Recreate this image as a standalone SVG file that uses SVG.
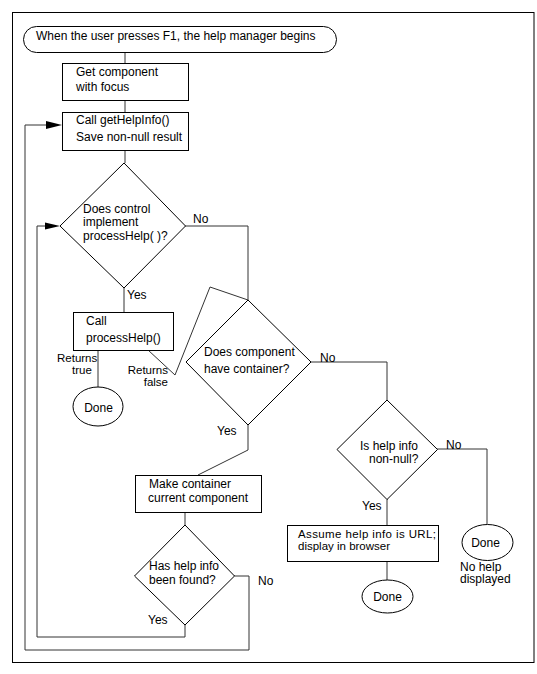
<svg xmlns="http://www.w3.org/2000/svg" width="537" height="674" viewBox="0 0 537 674">
<style>
text{font-family:"Liberation Sans",Arial,sans-serif;font-size:12px;fill:#000}
.s{fill:#fff;stroke:#000;stroke-width:1}
.c{fill:none;stroke:#333;stroke-width:1}
.m{text-anchor:middle}
.e{text-anchor:end}
.t{font-size:11.5px}
</style>
<rect width="537" height="674" fill="#fff"/>
<rect x="12.5" y="12.5" width="521.5" height="650" fill="none" stroke="#000" stroke-width="1"/>
<g id="connectors">
<line class="c" x1="125" y1="52" x2="125" y2="63"/>
<line class="c" x1="125" y1="100" x2="125" y2="112"/>
<line class="c" x1="125" y1="150" x2="125" y2="163"/>
<line class="c" x1="124" y1="288" x2="124" y2="312"/>
<polyline class="c" points="185,226 248,226 248,300"/>
<line class="c" x1="98" y1="351" x2="98" y2="387"/>
<polyline class="c" points="148,350 175,375 210,287 248,300"/>
<polyline class="c" points="311,362 387,362 387,400"/>
<polyline class="c" points="248,425 248,450 198,475"/>
<line class="c" x1="185" y1="513" x2="185" y2="525"/>
<polyline class="c" points="234,576 249,576 249,650 25,650 25,125 48,125"/>
<polyline class="c" points="185,625 185,637 37,637 37,226 46,226"/>
<polyline class="c" points="437,449 487,449 487,524"/>
<line class="c" x1="387" y1="499" x2="387" y2="525"/>
<line class="c" x1="387" y1="562" x2="387" y2="580"/>
<polygon points="62,125 46,121 46,129" fill="#000"/>
<polygon points="60,226 45,222.5 45,229.5" fill="#000"/>
</g>
<g id="start">
<rect class="s" x="23.5" y="26.5" width="313" height="26" rx="13" ry="13"/>
<text x="36" y="40">When the user presses F1, the help manager begins</text>
</g>
<g id="get-component">
<rect class="s" x="62.5" y="63.5" width="126" height="37"/>
<text x="76" y="76">Get component</text>
<text x="76" y="91">with focus</text>
</g>
<g id="get-help-info">
<rect class="s" x="62.5" y="112.5" width="126" height="38"/>
<text x="76" y="123.5">Call getHelpInfo()</text>
<text x="76" y="140.5">Save non-null result</text>
</g>
<g id="implements-process-help">
<polygon class="s" points="124,163 185.5,226 124,288 60,226"/>
<text x="83" y="213">Does control</text>
<text x="83" y="226">implement</text>
<text x="83" y="239.5">processHelp( )?</text>
<text x="193" y="223">No</text>
<text x="127" y="298.5">Yes</text>
</g>
<g id="call-process-help">
<rect class="s" x="73.5" y="312.5" width="100" height="38"/>
<text x="86" y="325">Call</text>
<text x="86" y="341.5">processHelp()</text>
<text class="t" x="57" y="362">Returns</text>
<text class="t" x="72" y="373.5">true</text>
<text class="e t" x="168" y="373.5">Returns</text>
<text class="e t" x="168" y="386">false</text>
</g>
<g id="done-1">
<ellipse class="s" cx="98" cy="406.5" rx="25" ry="19.5"/>
<text class="m" x="98.5" y="412">Done</text>
</g>
<g id="has-container">
<polygon class="s" points="248,300 311,362 248,425 186,362"/>
<text x="204" y="356">Does component</text>
<text x="204" y="373">have container?</text>
<text x="320" y="361.5">No</text>
<text x="217" y="435">Yes</text>
</g>
<g id="make-container-current">
<rect class="s" x="135.5" y="475.5" width="126" height="37"/>
<text x="149" y="487.5">Make container</text>
<text x="148" y="502">current component</text>
</g>
<g id="help-found">
<polygon class="s" points="185,525 234.5,576 185,625 134.5,576"/>
<text x="149" y="570">Has help info</text>
<text x="149" y="584">been found?</text>
<text x="258" y="584.5">No</text>
<text x="148" y="624">Yes</text>
</g>
<g id="help-non-null">
<polygon class="s" points="387,400 437.5,449.5 387,499.5 337,449.5"/>
<text x="360" y="450">Is help info</text>
<text x="369" y="463">non-null?</text>
<text x="446" y="448.5">No</text>
<text x="362" y="510">Yes</text>
</g>
<g id="display-in-browser">
<rect class="s" x="287.5" y="525.5" width="151" height="36"/>
<text class="t" x="298" y="538" textLength="138">Assume help info is URL;</text>
<text class="t" x="298" y="550">display in browser</text>
</g>
<g id="done-2">
<ellipse class="s" cx="387.5" cy="596.5" rx="25.5" ry="16.5"/>
<text class="m" x="387.5" y="600.5">Done</text>
</g>
<g id="done-3">
<ellipse class="s" cx="487.5" cy="542.5" rx="25.5" ry="18"/>
<text class="m" x="485.5" y="547">Done</text>
<text x="460" y="570.5">No help</text>
<text x="460" y="583">displayed</text>
</g>
</svg>
